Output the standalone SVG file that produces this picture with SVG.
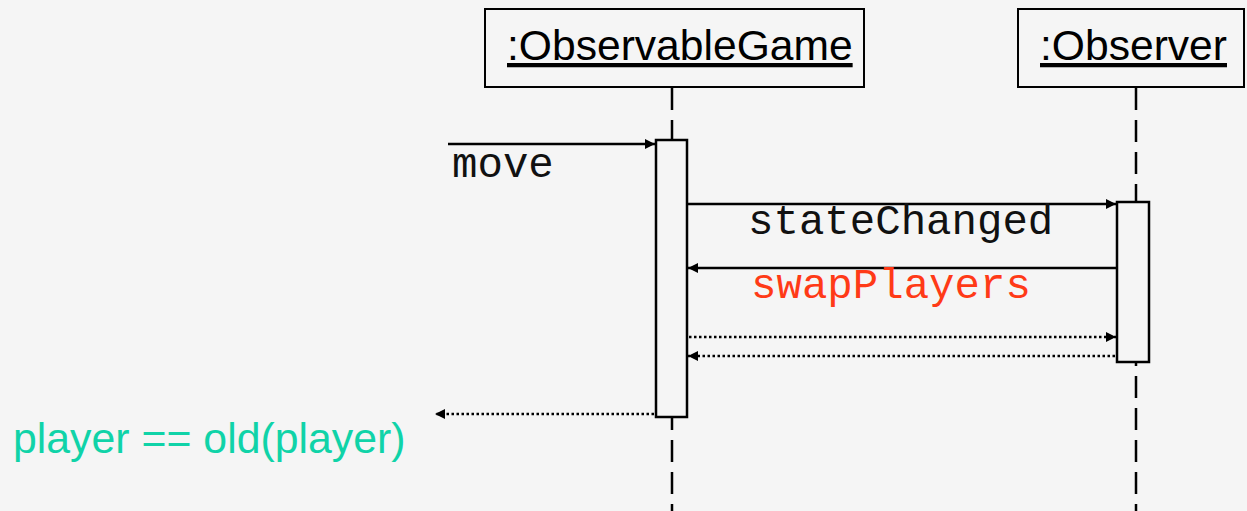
<svg xmlns="http://www.w3.org/2000/svg" width="1247" height="511" viewBox="0 0 1247 511">
  <style>
    .box { fill: #f5f5f5; stroke: #000; stroke-width: 2; }
    .act { fill: #f5f5f5; stroke: #000; stroke-width: 2.5; }
    .life { stroke: #000; stroke-width: 2.5; stroke-dasharray: 22 10; fill: none; }
    .msg { stroke: #000; stroke-width: 2.5; fill: none; }
    .ret { stroke: #000; stroke-width: 2.5; fill: none; stroke-dasharray: 2.5 2.5; }
    .obj { font-family: "Liberation Sans", Arial, sans-serif; font-size: 42.6px; fill: #000; text-decoration: underline; }
    .mono { font-family: "Liberation Mono", "Courier New", monospace; font-size: 42.4px; fill: #111; }
  </style>
  <defs>
    <marker id="head" viewBox="0 0 10 10" refX="10" refY="5" markerWidth="10" markerHeight="10" markerUnits="userSpaceOnUse" orient="auto">
      <path d="M0,0 L10,5 L0,10 Z" fill="#000"/>
    </marker>
  </defs>
  <rect width="1247" height="511" fill="#f5f5f5"/>

  <!-- lifelines -->
  <g id="lifelines">
    <line class="life" x1="672" y1="88" x2="672" y2="511"/>
    <line class="life" x1="1136" y1="88" x2="1136" y2="511"/>
  </g>

  <g id="observable-game">
    <rect class="box" x="485" y="9" width="379" height="78"/>
    <text class="obj" x="507" y="60">:ObservableGame</text>
    <rect class="act" x="656" y="140" width="31" height="277"/>
  </g>

  <g id="observer">
    <rect class="box" x="1018" y="9" width="226" height="78"/>
    <text class="obj" x="1040" y="60">:Observer</text>
    <rect class="act" x="1117" y="202" width="32" height="160"/>
  </g>

  <!-- messages -->
  <g id="connectors">
    <line class="msg" x1="448" y1="144" x2="655" y2="144" marker-end="url(#head)"/>
    <line class="msg" x1="688" y1="204" x2="1116" y2="204" marker-end="url(#head)"/>
    <line class="msg" x1="1116" y1="268" x2="688" y2="268" marker-end="url(#head)"/>
    <line class="ret" x1="689" y1="337" x2="1116" y2="337" marker-end="url(#head)"/>
    <line class="ret" x1="1115" y1="356" x2="688" y2="356" marker-end="url(#head)"/>
    <line class="ret" x1="654" y1="414" x2="435" y2="414" marker-end="url(#head)"/>
  </g>

  <g id="labels">
    <text class="mono" x="452" y="177">move</text>
    <text class="mono" x="748" y="234">stateChanged</text>
    <text class="mono" x="751" y="298" style="fill:#ff3a17">swapPlayers</text>
    <text x="13" y="453" font-family="'Liberation Sans', Arial, sans-serif" font-size="42.8" fill="#10d3a8">player == old(player)</text>
  </g>
</svg>
